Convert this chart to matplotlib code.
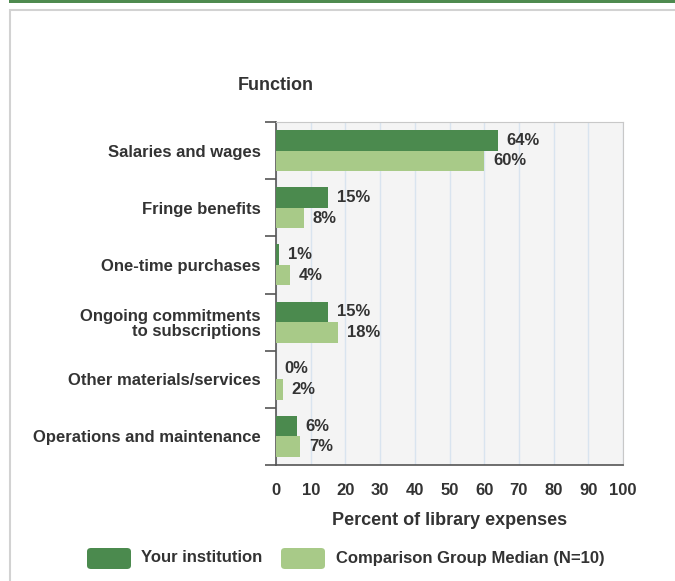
import matplotlib
matplotlib.use("Agg")
import matplotlib.pyplot as plt
from matplotlib.patches import Rectangle, FancyBboxPatch
import numpy as np

plt.rcParams['font.family'] = ['Liberation Sans', 'DejaVu Sans']

dark_green = "#4b8a4e"
light_green = "#a8ca88"
text_col = "#333333"

categories = ["Salaries and wages", "Fringe benefits", "One-time purchases",
              "Ongoing commitments\nto subscriptions", "Other materials/services",
              "Operations and maintenance"]
your_inst = [64, 15, 1, 15, 0, 6]
comparison = [60, 8, 4, 18, 2, 7]
series_names = ["Your institution", "Comparison Group Median (N=10)"]
x_ticks = [0, 10, 20, 30, 40, 50, 60, 70, 80, 90, 100]

W, H = 675, 581
fig = plt.figure(figsize=(W / 100, H / 100), dpi=100)

# page decoration: green strip at top and panel border
fig.patches.append(Rectangle((9 / W, 1 - 3 / H), 1, 3 / H, transform=fig.transFigure,
                             facecolor="#4e8a4f", edgecolor="none", zorder=-2))
fig.patches.append(Rectangle((10 / W, -0.1), 1, 1 - 10 / H + 0.1, transform=fig.transFigure,
                             facecolor="white", edgecolor="#d2d2d2", lw=1.5, zorder=-2))

ax = fig.add_axes([276 / W, 1 - 465 / H, 347 / W, 343 / H])
ax.set_facecolor("#f4f4f4")

y = np.arange(len(categories))
h = 0.36
ax.barh(y - h / 2, your_inst, height=h, color=dark_green, zorder=3)
ax.barh(y + h / 2, comparison, height=h, color=light_green, zorder=3)

for i in range(len(categories)):
    ax.text(your_inst[i] + 2.5, y[i] - h / 2, f"{your_inst[i]}%", va="center", ha="left",
            fontsize=12, fontweight="bold", color=text_col, zorder=4)
    ax.text(comparison[i] + 2.5, y[i] + h / 2, f"{comparison[i]}%", va="center", ha="left",
            fontsize=12, fontweight="bold", color=text_col, zorder=4)

ax.set_xlim(0, 100)
ax.set_ylim(len(categories) - 0.5, -0.5)
ax.set_xticks(x_ticks)
ax.set_xticklabels([str(t) for t in x_ticks], fontsize=12, fontweight="bold", color=text_col)
ax.tick_params(axis="x", length=0, pad=13)
ax.grid(axis="x", color="#d9e4ef", lw=1, zorder=1)

ax.set_yticks(y)
ax.set_yticklabels(categories, fontsize=12, fontweight="bold", color=text_col, linespacing=1.0)
ax.tick_params(axis="y", which="major", length=0, pad=11)
ax.set_yticks(np.arange(len(categories) + 1) - 0.5, minor=True)
ax.tick_params(axis="y", which="minor", length=8, width=1.2, color="#555555")

for s in ["top", "right"]:
    ax.spines[s].set_color("#c8c8c8")
for s in ["left", "bottom"]:
    ax.spines[s].set_color("#555555")
    ax.spines[s].set_linewidth(1.2)

ax.set_xlabel("Percent of library expenses", fontsize=13, fontweight="bold",
              color=text_col, labelpad=10)
fig.text(276 / W, 1 - 85 / H, "Function", ha="center", va="center", fontsize=13,
         fontweight="bold", color=text_col)

# legend
for (x0, col, name, tx) in [(87, dark_green, series_names[0], 141),
                            (281, light_green, series_names[1], 336)]:
    fig.patches.append(FancyBboxPatch((x0 / W, 1 - 569 / H), 44 / W, 21 / H,
                                      boxstyle="round,pad=0,rounding_size=0.006",
                                      transform=fig.transFigure, facecolor=col, edgecolor="none"))
    fig.text(tx / W, 1 - 558 / H, name, ha="left", va="center", fontsize=12,
             fontweight="bold", color=text_col)

fig.savefig("out.png", dpi=100)
